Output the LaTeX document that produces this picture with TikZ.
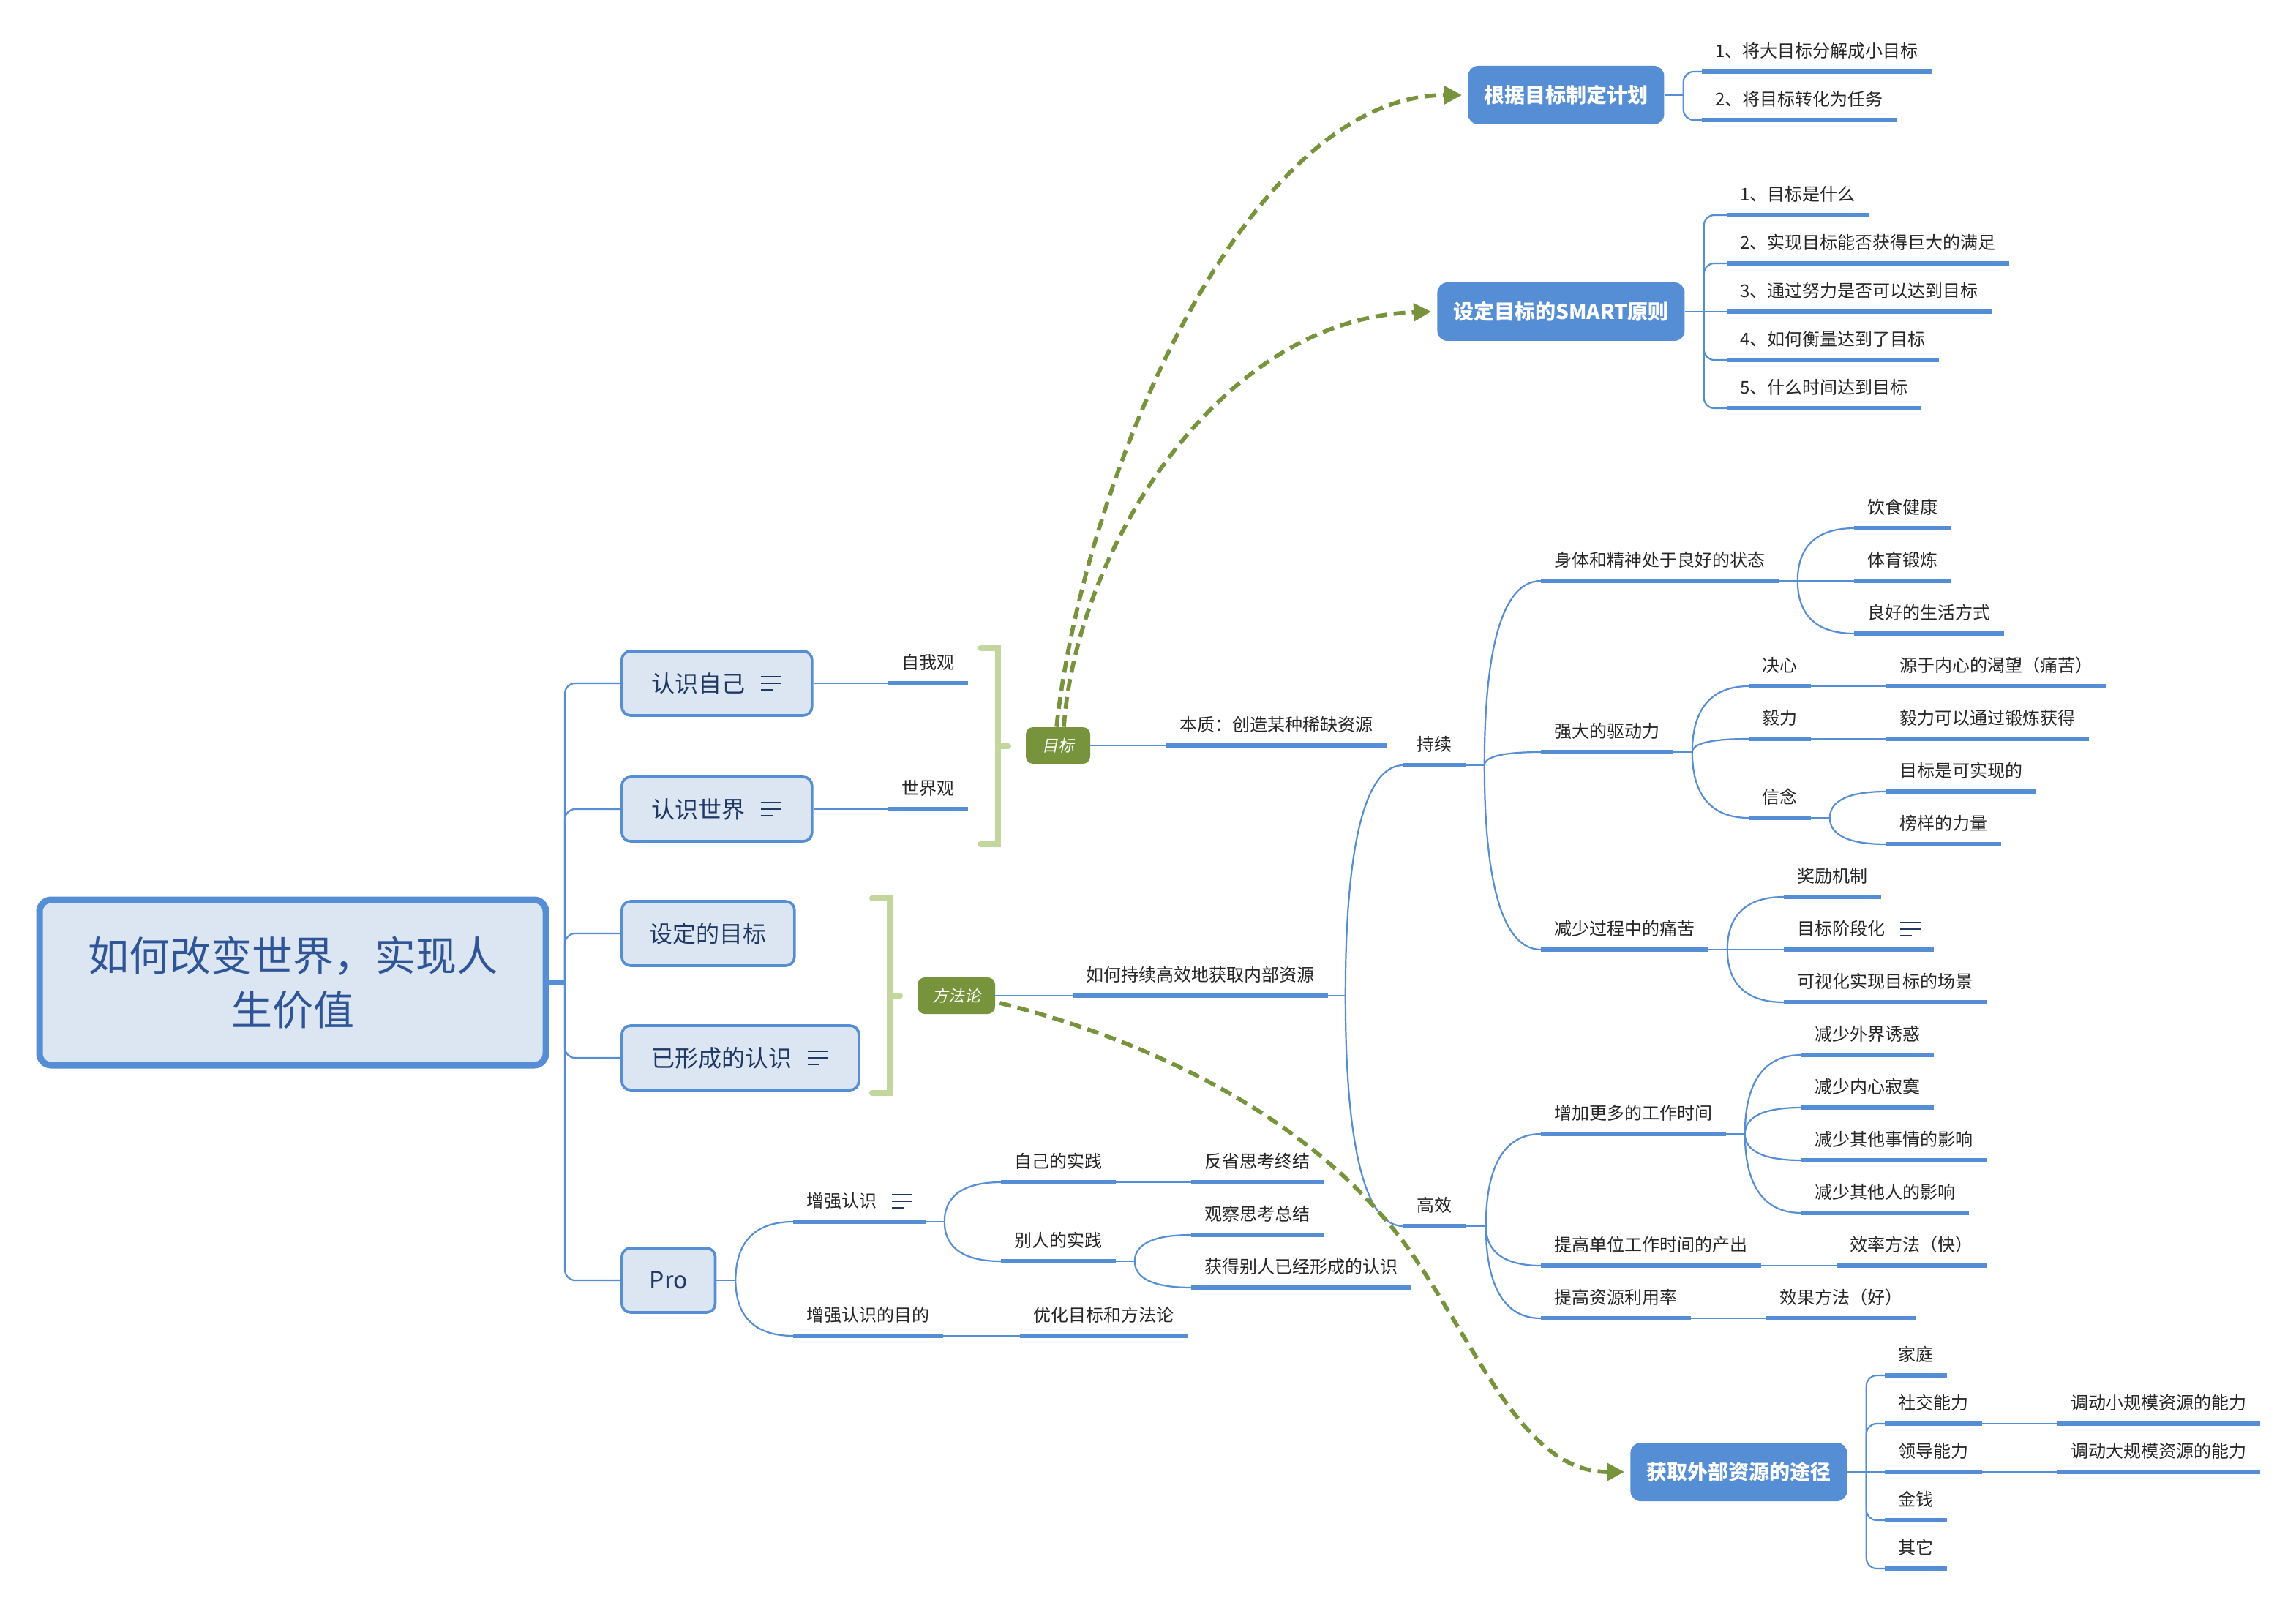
\documentclass[tikz,border=0pt]{standalone}
\usepackage{fontspec}
\setmainfont{Noto Sans CJK SC}
\newfontfamily\slcjk[FakeSlant=0.2]{Noto Sans CJK SC}
\usetikzlibrary{calc,arrows.meta}
\definecolor{xblue}{RGB}{85,142,213}
\definecolor{xfill}{RGB}{220,230,242}
\definecolor{xgreen}{RGB}{119,147,60}
\definecolor{xlgreen}{RGB}{195,214,155}
\definecolor{xtxt}{RGB}{38,38,38}
\definecolor{xnavy}{RGB}{31,56,100}
\definecolor{xtitle}{RGB}{47,85,151}
\tikzset{
  lbl/.style={anchor=south west, inner xsep=9pt, inner ysep=0pt, text height=11pt, text depth=9.5pt, font=\fontsize{12}{14}\selectfont, text=xtxt},
  ul/.style={draw=xblue, line width=3pt},
  conn/.style={draw=xblue, line width=1.1pt},
  rootbox/.style={draw=xblue, fill=xfill, line width=4.5pt, rounded corners=8pt, minimum width=346pt, minimum height=113pt, align=center, font=\fontsize{28}{37}\selectfont, text=xtitle},
  kbox/.style={draw=xblue, fill=xfill, line width=1.8pt, rounded corners=6pt, minimum height=44pt, inner xsep=19pt, anchor=west, font=\fontsize{16}{19}\selectfont, text=xnavy},
  bbox/.style={fill=xblue, rounded corners=7pt, minimum height=40pt, inner xsep=11pt, anchor=west, font=\fontsize{14}{17}\selectfont\bfseries, text=white},
  gnode/.style={fill=xgreen, rounded corners=5pt, minimum height=25pt, text=white, font={\slcjk\fontsize{11}{13}\selectfont}, inner xsep=0pt},
  brk/.style={draw=xlgreen, line width=4pt, line cap=round},
  darr/.style={draw=xgreen, line width=2.8pt, dash pattern=on 8pt off 4.5pt, -{Triangle[length=12pt,width=12pt]}},
  icon/.style={draw=xnavy, line width=1.2pt},
}
\newcommand{\mylab}[4]{\node[lbl] (#1) at (#2,#3) {#4}; \draw[ul] (#1.south west) -- (#1.south east);}
\newcommand{\curv}[2]{\draw[conn] (#1) .. controls ($(#1)!0.5!(#1|-#2)$) and ($(#1|-#2)!0.2!(#2)$) .. (#2);}
\newcommand{\elb}[2]{\draw[conn, rounded corners=7pt] (#1) |- (#2);}
\newcommand{\noteicon}[1]{\draw[icon] ($(#1)+(0,4.5pt)$) -- ++(14pt,0) ($(#1)+(0,0)$) -- ++(14pt,0) ($(#1)+(0,-4.5pt)$) -- ++(8pt,0);}
\newcommand{\iconspace}[1]{\rule{#1}{0pt}}
\begin{document}
\begin{tikzpicture}[x=1pt, y=-1pt]
\fill[white] (0,0) rectangle (1569,1099);
\useasboundingbox (0,0) rectangle (1569,1099);

% root and first level
\node[rootbox] (root) at (200,671.5) {如何改变世界，实现人\\生价值};
\coordinate (j0) at (386,671.5);
\draw[conn, line width=3pt] (root.east) -- (j0);
\node[kbox, inner xsep=20.5pt] (rz) at (424,467) {认识自己\iconspace{25pt}};
\node[kbox, inner xsep=20.5pt] (rs) at (424,553) {认识世界\iconspace{25pt}};
\node[kbox] (sd) at (424,638) {设定的目标};
\node[kbox, inner xsep=20.5pt] (yx) at (424,723) {已形成的认识\iconspace{25pt}};
\node[kbox] (pro) at (424,875) {Pro};
\coordinate (ic1) at ($(rz.east)+(-36pt,0)$); \noteicon{ic1}
\coordinate (ic2) at ($(rs.east)+(-36pt,0)$); \noteicon{ic2}
\coordinate (ic3) at ($(yx.east)+(-36pt,0)$); \noteicon{ic3}
\elb{j0}{rz.west}
\elb{j0}{rs.west}
\elb{j0}{sd.west}
\elb{j0}{yx.west}
\elb{j0}{pro.west}

\mylab{zwg}{607}{467}{自我观}
\draw[conn] (rz.east) -- (zwg.south west);
\mylab{sjg}{607}{553}{世界观}
\draw[conn] (rs.east) -- (sjg.south west);

% brackets
\draw[brk] (670,443) -- (682,443) -- (682,577) -- (670,577);
\draw[brk] (682,510) -- (689,510);
\draw[brk] (596,614) -- (608,614) -- (608,747) -- (596,747);
\draw[brk] (608,680.5) -- (615,680.5);

\node[gnode, minimum width=44pt] (mubiao) at (723,509.5) {目标};
\node[gnode, minimum width=53pt] (fangfa) at (653.5,680.5) {方法论};

\mylab{bz}{797}{509.5}{本质：创造某种稀缺资源}
\draw[conn] (mubiao.east) -- (bz.south west);
\mylab{rh}{733}{680.5}{如何持续高效地获取内部资源}
\draw[conn] (fangfa.east) -- (rh.south west);
\coordinate (j1) at ($(rh.south east)+(12pt,0)$);
\draw[conn] (rh.south east) -- (j1);
\mylab{cx}{959}{523}{持续}
\mylab{gx}{959}{838}{高效}
\curv{j1}{cx.south west}
\curv{j1}{gx.south west}

% 持续
\coordinate (j2) at ($(cx.south east)+(13pt,0)$);
\draw[conn] (cx.south east) -- (j2);
\mylab{st}{1053}{397}{身体和精神处于良好的状态}
\mylab{qd}{1053}{514}{强大的驱动力}
\mylab{js}{1053}{649}{减少过程中的痛苦}
\curv{j2}{st.south west}
\curv{j2}{qd.south west}
\curv{j2}{js.south west}

\coordinate (j3) at ($(st.south east)+(13pt,0)$);
\draw[conn] (st.south east) -- (j3);
\mylab{sta}{1267}{361}{饮食健康}
\mylab{stb}{1267}{397}{体育锻炼}
\mylab{stc}{1267}{433}{良好的生活方式}
\curv{j3}{sta.south west}
\curv{j3}{stb.south west}
\curv{j3}{stc.south west}

\coordinate (j4) at ($(qd.south east)+(13pt,0)$);
\draw[conn] (qd.south east) -- (j4);
\mylab{jx}{1195}{469}{决心}
\mylab{yl}{1195}{505}{毅力}
\mylab{xn}{1195}{559}{信念}
\curv{j4}{jx.south west}
\curv{j4}{yl.south west}
\curv{j4}{xn.south west}
\mylab{jxa}{1289}{469}{源于内心的渴望（痛苦）}
\draw[conn] (jx.south east) -- (jxa.south west);
\mylab{yla}{1289}{505}{毅力可以通过锻炼获得}
\draw[conn] (yl.south east) -- (yla.south west);
\coordinate (j5) at ($(xn.south east)+(13pt,0)$);
\draw[conn] (xn.south east) -- (j5);
\mylab{xna}{1289}{541}{目标是可实现的}
\mylab{xnb}{1289}{577}{榜样的力量}
\curv{j5}{xna.south west}
\curv{j5}{xnb.south west}

\coordinate (j6) at ($(js.south east)+(13pt,0)$);
\draw[conn] (js.south east) -- (j6);
\mylab{jsa}{1219}{613}{奖励机制}
\mylab{jsb}{1219}{649}{目标阶段化\iconspace{24pt}}
\mylab{jsc}{1219}{685}{可视化实现目标的场景}
\coordinate (ic4) at ($(jsb.south east)+(-23pt,14pt)$); \noteicon{ic4}
\curv{j6}{jsa.south west}
\curv{j6}{jsb.south west}
\curv{j6}{jsc.south west}

% 高效
\coordinate (j7) at ($(gx.south east)+(14pt,0)$);
\draw[conn] (gx.south east) -- (j7);
\mylab{gxa}{1053}{775}{增加更多的工作时间}
\mylab{gxb}{1053}{865}{提高单位工作时间的产出}
\mylab{gxc}{1053}{901}{提高资源利用率}
\curv{j7}{gxa.south west}
\curv{j7}{gxb.south west}
\curv{j7}{gxc.south west}
\coordinate (j8) at ($(gxa.south east)+(13pt,0)$);
\draw[conn] (gxa.south east) -- (j8);
\mylab{wa}{1231}{721}{减少外界诱惑}
\mylab{wb}{1231}{757}{减少内心寂寞}
\mylab{wc}{1231}{793}{减少其他事情的影响}
\mylab{wd}{1231}{829}{减少其他人的影响}
\curv{j8}{wa.south west}
\curv{j8}{wb.south west}
\curv{j8}{wc.south west}
\curv{j8}{wd.south west}
\mylab{gxba}{1255}{865}{效率方法（快）}
\draw[conn] (gxb.south east) -- (gxba.south west);
\mylab{gxca}{1207}{901}{效果方法（好）}
\draw[conn] (gxc.south east) -- (gxca.south west);

% Pro
\coordinate (j9) at ($(pro.east)+(13pt,0)$);
\draw[conn] (pro.east) -- (j9);
\mylab{zq}{542}{835}{增强认识\iconspace{24pt}}
\coordinate (ic5) at ($(zq.south east)+(-23pt,14pt)$); \noteicon{ic5}
\mylab{zm}{542}{913}{增强认识的目的}
\curv{j9}{zq.south west}
\curv{j9}{zm.south west}
\coordinate (j10) at ($(zq.south east)+(13pt,0)$);
\draw[conn] (zq.south east) -- (j10);
\mylab{zj}{684}{808}{自己的实践}
\mylab{br}{684}{862}{别人的实践}
\curv{j10}{zj.south west}
\curv{j10}{br.south west}
\mylab{fs}{814}{808}{反省思考终结}
\draw[conn] (zj.south east) -- (fs.south west);
\coordinate (j11) at ($(br.south east)+(13pt,0)$);
\draw[conn] (br.south east) -- (j11);
\mylab{gc}{814}{844}{观察思考总结}
\mylab{hd}{814}{880}{获得别人已经形成的认识}
\curv{j11}{gc.south west}
\curv{j11}{hd.south west}
\mylab{yh}{697}{913}{优化目标和方法论}
\draw[conn] (zm.south east) -- (yh.south west);

% top right
\node[bbox] (jihua) at (1003,65) {根据目标制定计划};
\coordinate (jj) at ($(jihua.east)+(13pt,0)$);
\draw[conn] (jihua.east) -- (jj);
\mylab{pa}{1163}{49}{1、将大目标分解成小目标}
\mylab{pb}{1163}{82}{2、将目标转化为任务}
\elb{jj}{pa.south west}
\elb{jj}{pb.south west}

\node[bbox] (smart) at (982,213) {设定目标的SMART原则};
\coordinate (js0) at ($(smart.east)+(13pt,0)$);
\draw[conn] (smart.east) -- (js0);
\mylab{sa}{1180}{147}{1、目标是什么}
\mylab{sb}{1180}{180}{2、实现目标能否获得巨大的满足}
\mylab{sc}{1180}{213}{3、通过努力是否可以达到目标}
\mylab{sdd}{1180}{246}{4、如何衡量达到了目标}
\mylab{se}{1180}{279}{5、什么时间达到目标}
\elb{js0}{sa.south west}
\elb{js0}{sb.south west}
\draw[conn] (js0) -- (sc.south west);
\elb{js0}{sdd.south west}
\elb{js0}{se.south west}

% bottom right
\node[bbox] (hq) at (1114,1006) {获取外部资源的途径};
\coordinate (jh) at ($(hq.east)+(13pt,0)$);
\draw[conn] (hq.east) -- (jh);
\mylab{ha}{1288}{940}{家庭}
\mylab{hb}{1288}{973}{社交能力}
\mylab{hc}{1288}{1006}{领导能力}
\mylab{hdd}{1288}{1039}{金钱}
\mylab{he}{1288}{1072}{其它}
\elb{jh}{ha.south west}
\elb{jh}{hb.south west}
\draw[conn] (jh) -- (hc.south west);
\elb{jh}{hdd.south west}
\elb{jh}{he.south west}
\mylab{hba}{1406}{973}{调动小规模资源的能力}
\draw[conn] (hb.south east) -- (hba.south west);
\mylab{hca}{1406}{1006}{调动大规模资源的能力}
\draw[conn] (hc.south east) -- (hca.south west);

% dashed relations
\draw[darr] ($(mubiao.north)+(-1pt,0)$) .. controls (740,330) and (850,65) .. ($(jihua.west)+(-4pt,0)$);
\draw[darr] ($(mubiao.north)+(4pt,0)$) .. controls (735,380) and (830,218) .. ($(smart.west)+(-4pt,0)$);
\draw[darr] ($(fangfa.east)+(3pt,-5pt)$) .. controls (800,715) and (900,770) .. (960,850) .. controls (1010,920) and (1040,1006) .. ($(hq.west)+(-4pt,0)$);
\end{tikzpicture}
\end{document}
